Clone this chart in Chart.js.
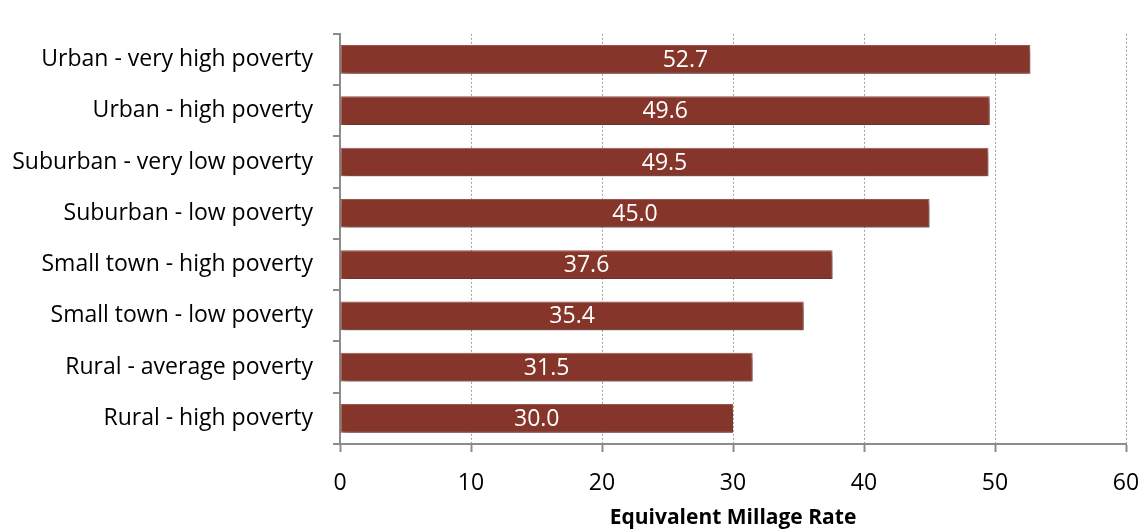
<!DOCTYPE html>
<html>
<head>
<meta charset="utf-8">
<script src="https://cdn.jsdelivr.net/npm/chart.js@4/dist/chart.umd.min.js"></script>
<style>
  html, body { margin: 0; padding: 0; background: #fff; }
  #holder { width: 1146px; height: 531px; }
</style>
</head>
<body>
<div id="holder"><canvas id="chartHolder"></canvas></div>
<script>
const categories = [
  "Urban - very high poverty",
  "Urban - high poverty",
  "Suburban - very low poverty",
  "Suburban - low poverty",
  "Small town - high poverty",
  "Small town - low poverty",
  "Rural - average poverty",
  "Rural - high poverty"
];
const rates = [52.7, 49.6, 49.5, 45.0, 37.6, 35.4, 31.5, 30.0];
const xTicks = [0, 10, 20, 30, 40, 50, 60];

const FONT = "'Open Sans', sans-serif";
const chartHolder = document.getElementById("chartHolder");

// drop shadow under the bars, then the value written in the middle of each bar
const barShadow = {
  id: "barShadow",
  beforeDatasetsDraw(chart) {
    const ctx = chart.ctx;
    ctx.save();
    ctx.shadowColor = "rgba(0,0,0,0.45)";
    ctx.shadowBlur = 6;
    ctx.shadowOffsetX = 2;
    ctx.shadowOffsetY = 4;
  },
  afterDatasetsDraw(chart) {
    const ctx = chart.ctx;
    ctx.restore();
    ctx.save();
    ctx.fillStyle = "#ffffff";
    ctx.font = "23px " + FONT;
    ctx.textAlign = "center";
    ctx.textBaseline = "middle";
    chart.getDatasetMeta(0).data.forEach((bar, i) => {
      const mid = (bar.x + bar.base) / 2;
      ctx.fillText(rates[i].toFixed(1), mid, bar.y + 1);
    });
    ctx.restore();
  }
};

new Chart(chartHolder, {
  type: "bar",
  data: {
    labels: categories,
    datasets: [{
      data: rates,
      backgroundColor: "#86352a",
      borderColor: "#a2584c",
      borderWidth: 1,
      borderSkipped: false,
      categoryPercentage: 0.56,
      barPercentage: 1
    }]
  },
  options: {
    indexAxis: "y",
    responsive: true,
    maintainAspectRatio: false,
    animation: false,
    layout: { padding: { top: 12, right: 20, left: 0, bottom: 0 } },
    plugins: {
      legend: { display: false },
      tooltip: { enabled: false }
    },
    scales: {
      x: {
        min: 0,
        max: 60,
        afterBuildTicks: scale => { scale.ticks = xTicks.map(v => ({ value: v })); },
        afterFit: scale => {
          scale.height = 87;
          scale.paddingLeft = 0;
          scale.paddingRight = 0;
        },
        grid: {
          color: "#a0a0a0",
          lineWidth: 1,
          tickBorderDash: [],
          tickColor: "#8c8c8c",
          tickLength: 8,
          tickWidth: 2
        },
        border: { color: "#8c8c8c", width: 2, dash: [2, 2] },
        ticks: {
          color: "#000",
          font: { family: FONT, size: 23 },
          padding: 18,
          maxRotation: 0
        },
        title: {
          display: true,
          text: "Equivalent Millage Rate",
          color: "#000",
          font: { family: FONT, size: 21, weight: "bold" },
          padding: { top: 0, bottom: 0 }
        }
      },
      y: {
        afterFit: scale => { scale.width = 340; },
        grid: {
          offset: true,
          drawOnChartArea: false,
          color: "#8c8c8c",
          tickLength: 7,
          lineWidth: 2
        },
        border: { color: "#8c8c8c", width: 2 },
        ticks: {
          color: "#000",
          font: { family: FONT, size: 23 },
          padding: 20
        }
      }
    }
  },
  plugins: [barShadow]
});
</script>
</body>
</html>
